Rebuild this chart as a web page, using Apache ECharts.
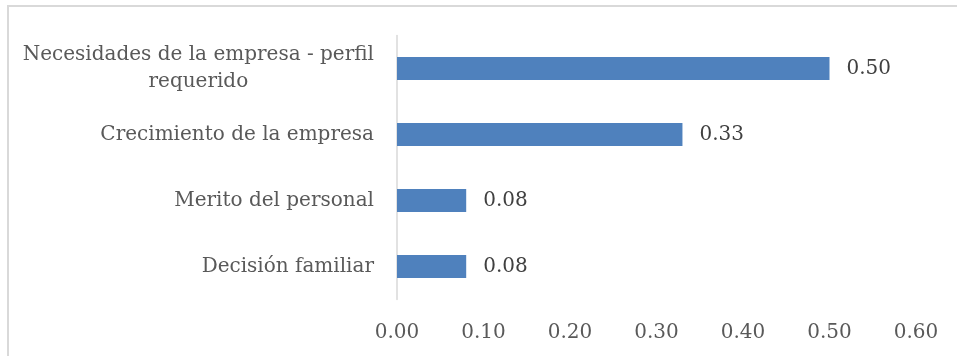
<!DOCTYPE html>
<html>
<head>
<meta charset="utf-8">
<script src="https://cdn.jsdelivr.net/npm/echarts@6/dist/echarts.min.js"></script>
<style>
  html, body { margin: 0; padding: 0; background: #fff; overflow: hidden; }
  #frame { position: absolute; left: 7px; top: 5px; width: 1000px; height: 400px;
           border-left: 2px solid #d9d9d9; border-top: 2px solid #d9d9d9; }
  #chart { position: absolute; left: 0; top: 0; width: 957px; height: 356px; }
</style>
</head>
<body>
<div id="frame"></div>
<div id="chart"></div>
<script>
// Reasons, listed bottom to top as they appear on the category axis
const categories = [
  'Decisión familiar',
  'Merito del personal',
  'Crecimiento de la empresa',
  'Necesidades de la empresa - perfil\nrequerido'
];
const values = [0.08, 0.08, 0.33, 0.50];
const xTicks = [0, 0.1, 0.2, 0.3, 0.4, 0.5, 0.6];

const FONT = 'DejaVu Serif';
const SIZE = 20;

const chart = echarts.init(document.getElementById('chart'), null, { renderer: 'canvas' });
chart.setOption({
  animation: false,
  grid: { left: 397, top: 35.5, width: 519, height: 264, containLabel: false },
  xAxis: {
    type: 'value',
    min: xTicks[0],
    max: xTicks[xTicks.length - 1],
    interval: 0.1,
    axisLine: { show: false },
    axisTick: { show: false },
    splitLine: { show: false },
    axisLabel: {
      margin: 23,
      color: '#595959',
      fontFamily: FONT,
      fontSize: SIZE,
      formatter: v => v.toFixed(2)
    }
  },
  yAxis: {
    type: 'category',
    data: categories,
    axisLine: { show: true, lineStyle: { color: '#d9d9d9', width: 1.5 } },
    axisTick: { show: false },
    axisLabel: {
      margin: 23,
      color: '#595959',
      fontFamily: FONT,
      fontSize: SIZE,
      lineHeight: 27,
      align: 'right',
      formatter: v => v.split('\n').map(s => '{c|' + s + '}').join('\n'),
      rich: {
        c: { align: 'center', color: '#595959', fontFamily: FONT, fontSize: SIZE, lineHeight: 27 }
      }
    }
  },
  series: [{
    type: 'bar',
    data: values,
    barWidth: 23,
    itemStyle: { color: '#4f81bd' },
    label: {
      show: true,
      position: 'right',
      distance: 17,
      color: '#404040',
      fontFamily: FONT,
      fontSize: SIZE,
      formatter: p => p.value.toFixed(2)
    }
  }]
});
</script>
</body>
</html>
